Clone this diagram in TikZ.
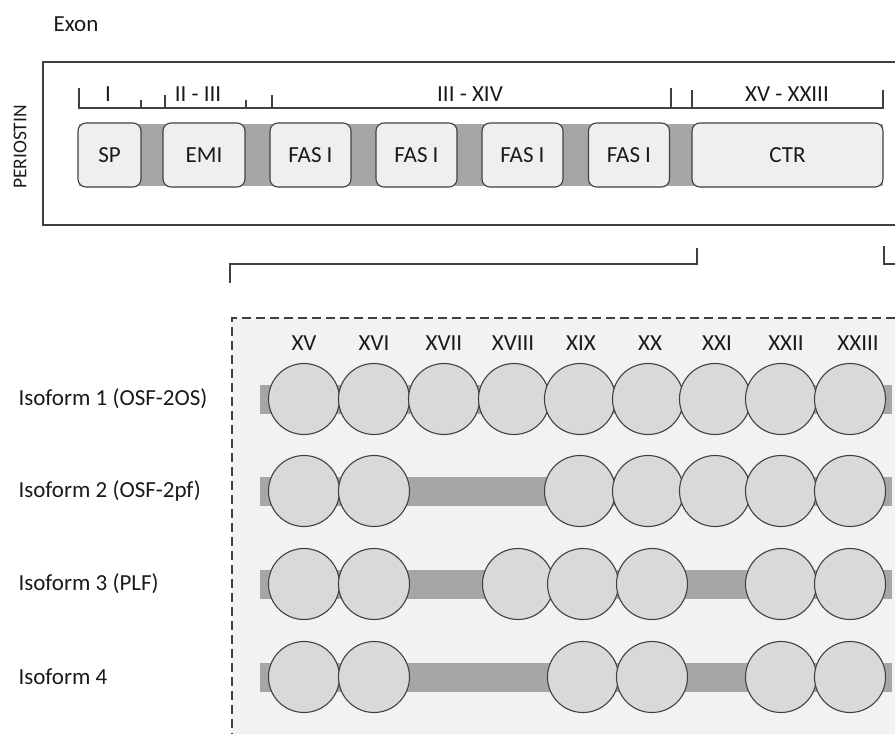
\documentclass[tikz,border=0pt]{standalone}
\usepackage{fontspec}
\setmainfont{Carlito}
\usetikzlibrary{positioning}

\definecolor{bandgray}{HTML}{A6A6A6}
\definecolor{boxgray}{HTML}{EFEFEF}
\definecolor{ballgray}{HTML}{D9D9D9}
\definecolor{panelgray}{HTML}{F2F2F2}
\definecolor{linegray}{HTML}{404040}
\definecolor{textgray}{HTML}{1A1A1A}

\begin{document}
\begin{tikzpicture}[x=1pt, y=-1pt, every node/.style={font=\fontsize{23}{27}\selectfont, text=textgray},
	domainbox/.style={rectangle, rounded corners=8pt, draw=linegray, line width=1.1pt, fill=boxgray, minimum height=64pt, inner sep=0pt},
	exonball/.style={circle, draw=linegray, line width=1.1pt, fill=ballgray, minimum size=71pt, inner sep=0pt},
	outline/.style={draw=linegray, line width=1.2pt}]
	\useasboundingbox (0,0) rectangle (895,734);

	% Periostin protein
	\node (exon) at (76,24) {Exon};
	\node (periostin) [rotate=90, font=\fontsize{19.5}{22}\selectfont] at (20,147) {PERIOSTIN};
	\draw [outline] (895,62) -- (43,62) -- (43,225) -- (895,225);

	% exon ranges
	\draw [outline] (79,88) -- (79,108) -- (883,108) -- (883,90);
	\foreach \tx/\ty in {141/100, 165/95, 246/100, 272/95, 671/88, 692/90}
		\draw [outline] (\tx,\ty) -- (\tx,108);
	\node (exI) at (108,94) {I};
	\node (exII) at (198,94) {II - III};
	\node (exIII) at (470,94) {III - XIV};
	\node (exXV) at (787,94) {XV - XXIII};

	% domains
	\fill [bandgray] (79,124) rectangle (883,186);
	\node (sp) [domainbox, minimum width=63pt] at (109.5,155) {SP};
	\node (emi) [domainbox, minimum width=82pt] at (204,155) {EMI};
	\node (fas1) [domainbox, minimum width=81pt] at (310.5,155) {FAS I};
	\node (fas2) [domainbox, minimum width=81pt] at (416.5,155) {FAS I};
	\node (fas3) [domainbox, minimum width=81pt] at (522.5,155) {FAS I};
	\node (fas4) [domainbox, minimum width=81pt] at (629,155) {FAS I};
	\node (ctr) [domainbox, minimum width=191pt] at (787.5,155) {CTR};

	% zoom on CTR
	\coordinate (ctrleft) at (697,248);
	\coordinate (ctrright) at (884,246);
	\coordinate (zoomleft) at (230,283);
	\coordinate (zoomright) at (895,264);
	\draw [outline] (zoomleft) -- ++(0,-19) -| (ctrleft);
	\draw [outline] (ctrright) |- (zoomright);

	% isoforms
	\fill [panelgray] (232,318) rectangle (895,734);
	\draw [outline, dash pattern=on 9pt off 5pt] (895,318) -- (232,318) -- (232,734);

	\foreach \num/\cx in {XV/304, XVI/374, XVII/444, XVIII/513, XIX/581, XX/650, XXI/717, XXII/786, XXIII/858}
		\node (col\num) at (\cx,343) {\num};

	\foreach \row/\y/\name/\balls in {
		1/399/{Isoform 1 (OSF-2OS)}/{304,374,444,514,580,648,715,781,850},
		2/491/{Isoform 2 (OSF-2pf)}/{304,374,580,648,715,781,850},
		3/584/{Isoform 3 (PLF)}/{304,374,518,583,652,781,850},
		4/677/{Isoform 4}/{304,374,583,652,781,850}} {
		\node (iso\row) [anchor=west] at (15,\y) {\name};
		\fill [bandgray] (260,\y-14.5) rectangle (892,\y+14.5);
		\foreach \bx [count=\i] in \balls
			\node (ball\row-\i) [exonball] at (\bx,\y) {};
	}
\end{tikzpicture}
\end{document}
